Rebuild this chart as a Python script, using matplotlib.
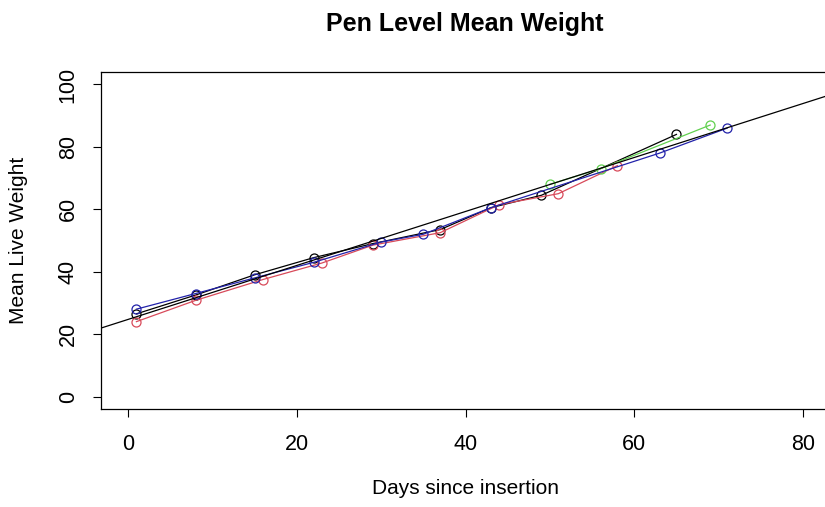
import matplotlib
matplotlib.use("Agg")
import matplotlib.pyplot as plt
import numpy as np

plt.rcParams["font.family"] = ["Liberation Sans", "DejaVu Sans"]

# pen-level mean weights
black_days = [1, 8, 15, 22, 29, 37, 43, 49, 65]
black_wt = [26.5, 32.5, 39, 44.5, 49, 53.5, 60.5, 64.5, 84]
red_days = [1, 8, 16, 23, 29, 37, 44, 51, 58]
red_wt = [24, 30.8, 37.5, 42.8, 48.5, 52.5, 61.5, 65, 74]
green_days = [50, 56, 69]
green_wt = [68, 73, 87]
blue_days = [1, 8, 15, 22, 30, 35, 43, 63, 71]
blue_wt = [28, 33, 38, 43, 49.5, 52, 60.5, 78, 86]

# overall fitted line
fit_intercept = 24.7
fit_slope = 0.865

x_ticks = [0, 20, 40, 60, 80]
y_ticks = [0, 20, 40, 60, 80, 100]

W, H = 825, 507
fig = plt.figure(figsize=(W / 100, H / 100), dpi=100)
ax = fig.add_axes([101 / W, 1 - 409 / H, 729 / W, 337 / H])

series = [
    (black_days, black_wt, "black"),
    (red_days, red_wt, "#D84A5A"),
    (green_days, green_wt, "#61D04F"),
    (blue_days, blue_wt, "#2222AA"),
]
for days, wt, col in series:
    ax.plot(days, wt, color=col, lw=0.9, marker="o", mfc="none",
            mec=col, ms=6.5, mew=0.9)

xlim = (-3.2, 83.2)
xs = np.array(xlim)
ax.plot(xs, fit_intercept + fit_slope * xs, color="black", lw=0.9)

ax.set_xlim(*xlim)
ax.set_ylim(-4, 104)
ax.set_xticks(x_ticks)
ax.set_yticks(y_ticks)
ax.tick_params(direction="out", length=6, width=0.8, labelsize=15.5)
ax.tick_params(axis="x", pad=12)
ax.tick_params(axis="y", pad=10)
for lab in ax.get_yticklabels():
    lab.set_rotation(90)
    lab.set_va("center")
for s in ax.spines.values():
    s.set_linewidth(0.9)

fig.text(465 / W, 1 - 488 / H, "Days since insertion", ha="center",
         va="center", fontsize=15)
fig.text(19 / W, 1 - 240 / H, "Mean Live Weight", ha="center",
         va="center", fontsize=15, rotation=90)
fig.text(465 / W, 1 - 24 / H, "Pen Level Mean Weight", ha="center",
         va="center", fontsize=18, fontweight="bold")

fig.savefig("out.png", dpi=100, facecolor="white")
